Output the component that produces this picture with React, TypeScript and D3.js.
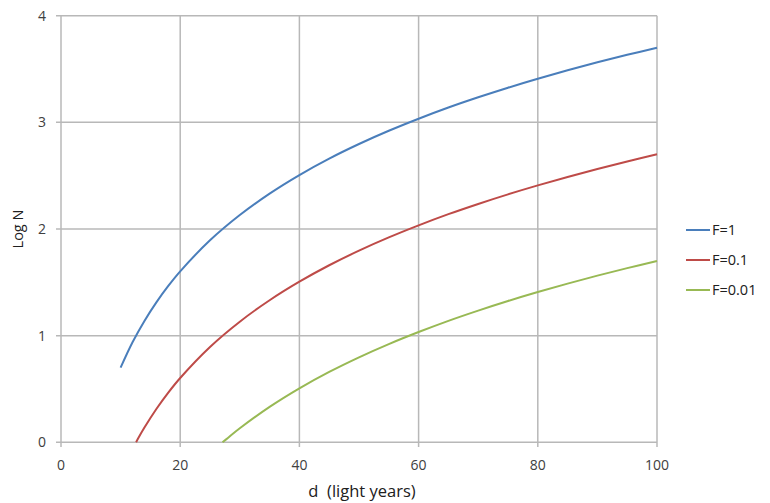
import React from "react";
import * as d3 from "d3";

const dF1 = [10, 12, 14, 16, 18, 20, 25, 30, 35, 40, 45, 50, 55, 60, 65, 70, 75, 80, 85, 90, 95, 100];
const logNF1 = [0.700, 0.938, 1.138, 1.312, 1.466, 1.603, 1.894, 2.131, 2.332, 2.506, 2.660, 2.797, 2.921, 3.034, 3.139, 3.235, 3.325, 3.409, 3.488, 3.563, 3.633, 3.700];
const dF01 = [12.6, 13, 14, 16, 18, 20, 25, 30, 35, 40, 45, 50, 55, 60, 65, 70, 75, 80, 85, 90, 95, 100];
const logNF01 = [0.000, 0.042, 0.138, 0.312, 0.466, 0.603, 0.894, 1.131, 1.332, 1.506, 1.660, 1.797, 1.921, 2.034, 2.139, 2.235, 2.325, 2.409, 2.488, 2.563, 2.633, 2.700];
const dF001 = [27.1, 28, 30, 35, 40, 45, 50, 55, 60, 65, 70, 75, 80, 85, 90, 95, 100];
const logNF001 = [0.000, 0.041, 0.131, 0.332, 0.506, 0.660, 0.797, 0.921, 1.034, 1.139, 1.235, 1.325, 1.409, 1.488, 1.563, 1.633, 1.700];

const seriesNames = ["F=1", "F=0.1", "F=0.01"];
const seriesColors = ["#4a7ebb", "#be4b48", "#98b954"];
const xTicks = [0, 20, 40, 60, 80, 100];
const yTicks = [0, 1, 2, 3, 4];

export default function App() {
  const W = 770, H = 503;
  const x = d3.scaleLinear().domain([0, 100]).range([61, 657]);
  const y = d3.scaleLinear().domain([0, 4]).range([442.3, 15.7]);
  const series = [
    dF1.map((d, i) => [d, logNF1[i]] as [number, number]),
    dF01.map((d, i) => [d, logNF01[i]] as [number, number]),
    dF001.map((d, i) => [d, logNF001[i]] as [number, number]),
  ];
  const line = d3.line<[number, number]>()
    .x(p => x(p[0]))
    .y(p => y(p[1]))
    .curve(d3.curveCatmullRom.alpha(0.5));
  const font = "'Open Sans', 'Liberation Sans', sans-serif";
  const grid = "#b8b8b8";
  const textCol = "#404040";
  return (
    <svg width={W} height={H} style={{ position: "absolute", left: 0, top: 0, background: "#fff" }} fontFamily={font}>
      <rect x={0} y={0} width={W} height={H} fill="#fff" />
      {yTicks.map(t => (
        <g key={"y" + t}>
          <line x1={56} x2={x(100)} y1={y(t)} y2={y(t)} stroke={grid} strokeWidth={1.5} />
          <text x={46} y={y(t)} dy="0.35em" textAnchor="end" fontSize={14} fill={textCol}>{t}</text>
        </g>
      ))}
      {xTicks.map(t => (
        <g key={"x" + t}>
          <line x1={x(t)} x2={x(t)} y1={y(4)} y2={447} stroke={grid} strokeWidth={1.5} />
          <text x={x(t)} y={465} dy="0.35em" textAnchor="middle" fontSize={14} fill={textCol}>{t}</text>
        </g>
      ))}
      {series.map((s, i) => (
        <path key={"s" + i} d={line(s) || ""} fill="none" stroke={seriesColors[i]} strokeWidth={2} />
      ))}
      {seriesNames.map((n, i) => (
        <g key={"l" + i}>
          <line x1={686} x2={710} y1={230 + i * 30} y2={230 + i * 30} stroke={seriesColors[i]} strokeWidth={2} />
          <text x={712} y={230 + i * 30} dy="0.35em" fontSize={14.5} fill="#202020">{n}</text>
        </g>
      ))}
      <text x={362} y={491} dy="0.35em" textAnchor="middle" fontSize={16.5} fill="#202020" style={{ whiteSpace: "pre" }}>d  (light years)</text>
      <text transform={`translate(18,229) rotate(-90)`} dy="0.35em" textAnchor="middle" fontSize={14.5} fill="#202020">Log N</text>
    </svg>
  );
}
